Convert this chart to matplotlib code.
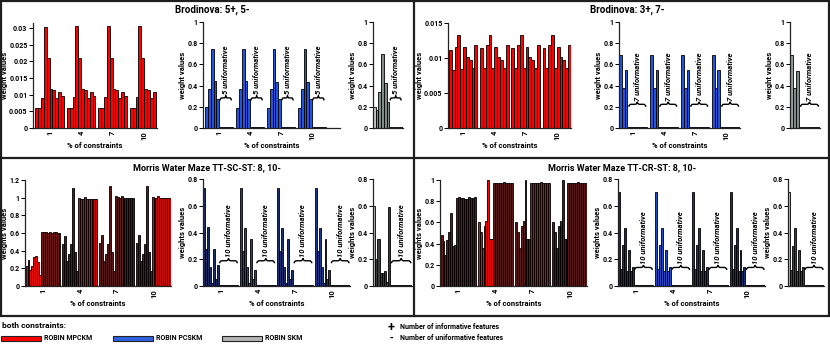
"""
Feature-weight bar charts for ROBIN MPCKM / PCSKM / SKM on the
Brodinova and Morris Water Maze data sets.
"""

import matplotlib
matplotlib.use("Agg")
import matplotlib.pyplot as plt
import numpy as np
from matplotlib.colors import to_rgb
from matplotlib.lines import Line2D
from matplotlib.patches import PathPatch, Rectangle
from matplotlib.path import Path

# ─── Data ─────────────────────────────────────────────────────────────────────
PCT_LABELS = ["1", "4", "7", "10"]

# Brodinova: 5+, 5-
BROD55_MPCKM = [
    [0.006, 0.006, 0.009, 0.0302, 0.0209, 0.0117, 0.0114, 0.009, 0.0107, 0.0097],
    [0.006, 0.006, 0.0092, 0.0306, 0.021, 0.0117, 0.0114, 0.009, 0.0107, 0.0097],
    [0.006, 0.006, 0.0092, 0.0306, 0.021, 0.0117, 0.0114, 0.009, 0.0107, 0.0097],
    [0.006, 0.006, 0.0092, 0.0306, 0.021, 0.0117, 0.0114, 0.009, 0.0107, 0.0097],
]
BROD55_PCSKM = [
    [0.2, 0.37, 0.75, 0.44, 0.27, 0.005, 0.005, 0.005, 0.005, 0.005],
    [0.19, 0.37, 0.75, 0.44, 0.27, 0.005, 0.005, 0.005, 0.005, 0.005],
    [0.19, 0.37, 0.75, 0.43, 0.27, 0.005, 0.005, 0.005, 0.005, 0.005],
    [0.19, 0.37, 0.75, 0.43, 0.27, 0.005, 0.005, 0.005, 0.005, 0.005],
]
BROD55_SKM = [0.2, 0.17, 0.34, 0.70, 0.42, 0.25, 0.005, 0.005, 0.005, 0.005, 0.005]

# Brodinova: 3+, 7-
BROD37_MPCKM = [
    [0.0112, 0.0083, 0.0116, 0.0133, 0.0084, 0.0115, 0.0101, 0.0097, 0.0085, 0.0118],
    [0.0114, 0.0085, 0.0119, 0.0133, 0.0085, 0.0115, 0.0101, 0.0097, 0.0085, 0.0118],
    [0.0114, 0.0085, 0.0119, 0.0133, 0.0085, 0.0115, 0.0101, 0.0097, 0.0085, 0.0118],
    [0.0114, 0.0085, 0.0119, 0.0133, 0.0085, 0.0115, 0.0101, 0.0097, 0.0085, 0.0118],
]
BROD37_PCSKM = [
    [0.69, 0.38, 0.55, 0.005, 0.005, 0.005, 0.005, 0.005, 0.005, 0.005],
    [0.69, 0.38, 0.55, 0.005, 0.005, 0.005, 0.005, 0.005, 0.005, 0.005],
    [0.69, 0.38, 0.55, 0.005, 0.005, 0.005, 0.005, 0.005, 0.005, 0.005],
    [0.69, 0.38, 0.55, 0.005, 0.005, 0.005, 0.005, 0.005, 0.005, 0.005],
]
BROD37_SKM = [0.69, 0.38, 0.54, 0.005, 0.005, 0.005, 0.005, 0.005, 0.005, 0.005]

# Morris Water Maze TT-SC-ST: 8, 10-
MWM_SC_MPCKM = [
    [0.23, 0.29, 0.18, 0.23, 0.33, 0.34, 0.27, 0.13,
     0.61, 0.61, 0.61, 0.605, 0.61, 0.605, 0.61, 0.61, 0.60, 0.60],
    [0.48, 0.57, 0.28, 0.36, 0.47, 1.11, 0.38, 0.17,
     1.0, 0.99, 0.99, 1.01, 0.99, 0.99, 0.98, 0.98, 0.98, 0.98],
    [0.49, 0.58, 0.28, 0.36, 0.48, 1.13, 0.38, 0.17,
     1.02, 1.01, 1.0, 1.02, 1.0, 1.0, 1.0, 1.0, 1.0, 1.0],
    [0.49, 0.58, 0.28, 0.36, 0.48, 1.13, 0.38, 0.17,
     1.01, 1.0, 1.0, 1.02, 1.0, 1.0, 1.0, 1.0, 1.0, 1.0],
]
MWM_SC_PCSKM = [
    [0.73, 0.28, 0.44, 0.14, 0.02, 0.28, 0.05, 0.16,
     0.004, 0.004, 0.004, 0.004, 0.004, 0.004, 0.004, 0.004, 0.004, 0.004],
    [0.73, 0.26, 0.43, 0.14, 0.02, 0.35, 0.05, 0.12,
     0.004, 0.004, 0.004, 0.004, 0.004, 0.004, 0.004, 0.004, 0.004, 0.004],
    [0.73, 0.26, 0.43, 0.14, 0.02, 0.35, 0.05, 0.12,
     0.004, 0.004, 0.004, 0.004, 0.004, 0.004, 0.004, 0.004, 0.004, 0.004],
    [0.73, 0.26, 0.43, 0.14, 0.02, 0.35, 0.05, 0.12,
     0.004, 0.004, 0.004, 0.004, 0.004, 0.004, 0.004, 0.004, 0.004, 0.004],
]
MWM_SC_SKM = [0.6, 0.2, 0.35, 0.1, 0.1, 0.11, 0.03, 0.59,
              0.004, 0.004, 0.004, 0.004, 0.004, 0.004, 0.004, 0.004, 0.004, 0.004]

# Morris Water Maze TT-CR-ST: 8, 10-
MWM_CR_MPCKM = [
    [0.48, 0.42, 0.29, 0.43, 0.51, 0.69, 0.38, 0.39,
     0.83, 0.84, 0.83, 0.83, 0.82, 0.82, 0.84, 0.83, 0.83, 0.84],
    [0.6, 0.51, 0.36, 0.57, 0.61, 1.0, 0.44, 0.44,
     0.97, 0.97, 0.97, 0.97, 0.97, 0.98, 0.97, 0.97, 0.97, 0.97],
    [0.6, 0.51, 0.36, 0.57, 0.61, 1.0, 0.44, 0.44,
     0.97, 0.97, 0.97, 0.97, 0.97, 0.98, 0.97, 0.97, 0.97, 0.97],
    [0.6, 0.51, 0.36, 0.57, 0.61, 1.0, 0.44, 0.44,
     0.97, 0.97, 0.97, 0.97, 0.97, 0.98, 0.97, 0.97, 0.97, 0.97],
]
MWM_CR_PCSKM = [
    [0.7, 0.13, 0.31, 0.43, 0.11, 0.27, 0.11, 0.14,
     0.004, 0.004, 0.004, 0.004, 0.004, 0.004, 0.004, 0.004, 0.004, 0.004],
    [0.7, 0.13, 0.31, 0.43, 0.11, 0.27, 0.11, 0.14,
     0.004, 0.004, 0.004, 0.004, 0.004, 0.004, 0.004, 0.004, 0.004, 0.004],
    [0.7, 0.13, 0.31, 0.43, 0.11, 0.27, 0.11, 0.14,
     0.004, 0.004, 0.004, 0.004, 0.004, 0.004, 0.004, 0.004, 0.004, 0.004],
    [0.7, 0.13, 0.31, 0.43, 0.11, 0.27, 0.11, 0.14,
     0.004, 0.004, 0.004, 0.004, 0.004, 0.004, 0.004, 0.004, 0.004, 0.004],
]
MWM_CR_SKM = [0.7, 0.12, 0.3, 0.43, 0.11, 0.27, 0.11, 0.14,
              0.004, 0.004, 0.004, 0.004, 0.004, 0.004, 0.004, 0.004, 0.004, 0.004]

# ─── Style ────────────────────────────────────────────────────────────────────
W, H = 830, 347
RED = ("#5a1818", "#ff0000")       # (dark, bright)
BLUE = ("#1b2558", "#2254dc")
GRAY_L = ("#7f8c8a", "#c4c4c4")
GRAY_D = ("#383c3b", "#b8b8b8")
FRAME = "#1e1e1e"
EDGE_LW = 0.6

plt.rcParams["font.family"] = ["Roboto", "DejaVu Sans"]
plt.rcParams["font.weight"] = "bold"
plt.rcParams["axes.labelweight"] = "bold"


def mix(pair, s):
    d, b = np.array(to_rgb(pair[0])), np.array(to_rgb(pair[1]))
    return tuple(d + (b - d) * s)


def px_axes(fig, left, top, right, bottom):
    return fig.add_axes([left / W, 1 - bottom / H, (right - left) / W, (bottom - top) / H])


def group_colors(n_inf, n, pair, shades):
    # shades: one (informative, uninformative) brightness per group
    return [[mix(pair, s_inf if i < n_inf else s_un) for i in range(n)]
            for s_inf, s_un in shades]


def draw_groups(ax, groups, colors, gap=1):
    n = len(groups[0])
    centers = []
    for g, (vals, cols) in enumerate(zip(groups, colors)):
        x = g * (n + gap) + np.arange(n)
        ax.bar(x, vals, width=1.0, align="edge", color=cols,
               edgecolor="black", linewidth=EDGE_LW)
        centers.append(x[0] + n / 2)
    return centers


def draw_single(ax, vals, cols):
    ax.bar(np.arange(len(vals)), vals, width=1.0, align="edge",
           color=cols, edgecolor="black", linewidth=EDGE_LW)
    ax.set_xlim(0, len(vals))


def add_brace(ax, x0, x1, y0, h):
    xm = (x0 + x1) / 2
    s = (x1 - x0) * 0.14
    yc = y0 + h / 2
    verts = [(x0, y0), (x0, yc), (x0 + s, yc),
             (xm - s, yc),
             (xm, yc), (xm, y0 + h),
             (xm, yc), (xm + s, yc),
             (x1 - s, yc),
             (x1, yc), (x1, y0)]
    codes = [Path.MOVETO, Path.CURVE3, Path.CURVE3, Path.LINETO,
             Path.CURVE3, Path.CURVE3, Path.CURVE3, Path.CURVE3,
             Path.LINETO, Path.CURVE3, Path.CURVE3]
    ax.add_patch(PathPatch(Path(verts, codes), fill=False, lw=1.0,
                           edgecolor="black", clip_on=False))


def style_axes(ax, ymax, yticks, ylabel, centers=None, xlabel=None):
    ax.set_ylim(0, ymax)
    ax.set_yticks(yticks)
    ax.set_yticklabels(["%g" % t for t in yticks])
    for s in ("top", "right"):
        ax.spines[s].set_visible(False)
    for s in ("left", "bottom"):
        ax.spines[s].set_linewidth(0.9)
        ax.spines[s].set_color("#222222")
    ax.tick_params(axis="y", length=3, width=0.7, pad=1, labelsize=5)
    if centers is not None:
        ax.set_xticks(centers)
        ax.set_xticklabels(PCT_LABELS, rotation=90)
        ax.tick_params(axis="x", length=0, pad=2, labelsize=5.5)
    else:
        ax.set_xticks([])
    ax.set_ylabel(ylabel, fontsize=5.5, labelpad=1)
    if xlabel:
        ax.set_xlabel(xlabel, fontsize=5.5, labelpad=2)
    ax.set_facecolor("none")


def label_uninf(ax, x0, x1, y0, text, ymax, ax_h_px):
    h = 5 * ymax / ax_h_px
    add_brace(ax, x0, x1, y0, h)
    ax.text((x0 + x1) / 2, y0 + h * 1.25, text, rotation=90, ha="center",
            va="bottom", fontsize=5.5, fontstyle="italic", fontweight="bold")


fig = plt.figure(figsize=(W / 100, H / 100), dpi=100)

# ─── Brodinova 5+, 5- ─────────────────────────────────────────────────────────
ax = px_axes(fig, 33, 23, 157, 128)
c = draw_groups(ax, BROD55_MPCKM, group_colors(10, 10, RED, [(1, 1)] * 4))
ax.set_xlim(-0.8, 42.5)
style_axes(ax, 0.0315, [0, 0.005, 0.01, 0.015, 0.02, 0.025, 0.03],
           "weight values", c, "% of constraints")

ax = px_axes(fig, 203, 22, 340, 128)
c = draw_groups(ax, BROD55_PCSKM, group_colors(5, 10, BLUE, [(1, 1)] * 4))
ax.set_xlim(-0.8, 48)
style_axes(ax, 1, [0, 0.2, 0.4, 0.6, 0.8, 1], "weight values", c, "% of constraints")
for g in range(4):
    label_uninf(ax, g * 11 + 5.3, g * 11 + 9.3, 0.26, "5 uniformative", 1, 106)

ax = px_axes(fig, 373, 22, 403, 128)
draw_single(ax, BROD55_SKM, [mix(GRAY_L, 1 if i == 0 else 0) for i in range(len(BROD55_SKM))])
style_axes(ax, 1, [0, 0.2, 0.4, 0.6, 0.8, 1], "weight values")
label_uninf(ax, 6.3, 10.3, 0.26, "5 uniformative", 1, 106)

# ─── Brodinova 3+, 7- ─────────────────────────────────────────────────────────
ax = px_axes(fig, 448, 23, 571, 128)
c = draw_groups(ax, BROD37_MPCKM, group_colors(10, 10, RED, [(1, 1)] * 4))
ax.set_xlim(-0.3, 43)
style_axes(ax, 0.015, [0, 0.005, 0.01, 0.015], "weight values", c, "% of constraints")

ax = px_axes(fig, 619, 22, 740, 128)
c = draw_groups(ax, BROD37_PCSKM, group_colors(3, 10, BLUE, [(1, 1)] * 4))
ax.set_xlim(0, 43)
style_axes(ax, 1, [0, 0.2, 0.4, 0.6, 0.8, 1], "weight values", c, "% of constraints")
for g in range(4):
    label_uninf(ax, g * 11 + 3.5, g * 11 + 9.5, 0.2, "7 uniformative", 1, 106)

ax = px_axes(fig, 790, 22, 820, 128)
draw_single(ax, BROD37_SKM, [mix(GRAY_L, 0.35 if i == 0 else 0) for i in range(len(BROD37_SKM))])
style_axes(ax, 1, [0, 0.2, 0.4, 0.6, 0.8, 1], "weight values")
label_uninf(ax, 3.5, 9.5, 0.2, "7 uniformative", 1, 106)

# ─── Morris Water Maze TT-SC-ST ───────────────────────────────────────────────
ax = px_axes(fig, 25, 180, 171, 286)
c = draw_groups(ax, MWM_SC_MPCKM,
                group_colors(8, 18, RED, [(1, 0.15), (0, 0.75), (0, 0), (0, 0.75)]))
ax.set_xlim(-0.3, 75)
style_axes(ax, 1.2, [0, 0.2, 0.4, 0.6, 0.8, 1, 1.2], "weights values", c,
           "% of constraints")

ax = px_axes(fig, 203, 179, 350, 286)
c = draw_groups(ax, MWM_SC_PCSKM,
                group_colors(8, 18, BLUE, [(0.1, 0), (0.6, 0), (0.2, 0), (0.35, 0)]))
ax.set_xlim(0, 75)
style_axes(ax, 0.8, [0, 0.2, 0.4, 0.6, 0.8], "weights values", c, "% of constraints")
for g in range(4):
    label_uninf(ax, g * 19 + 8.5, g * 19 + 17.5, 0.17, "10 uniformative", 0.8, 107)

ax = px_axes(fig, 373, 179, 412, 286)
draw_single(ax, MWM_SC_SKM, [mix(GRAY_D, 1 if i == 0 else 0) for i in range(len(MWM_SC_SKM))])
style_axes(ax, 0.8, [0, 0.2, 0.4, 0.6, 0.8], "weights values")
label_uninf(ax, 8.5, 17.5, 0.17, "10 uniformative", 0.8, 107)

# ─── Morris Water Maze TT-CR-ST ───────────────────────────────────────────────
ax = px_axes(fig, 440, 180, 587, 286)
c = draw_groups(ax, MWM_CR_MPCKM,
                group_colors(8, 18, RED, [(0.1, 0.1), (1, 0), (0, 0.7), (0, 0)]))
ax.set_xlim(-0.3, 75)
style_axes(ax, 1.0, [0, 0.2, 0.4, 0.6, 0.8, 1], "weights values", c,
           "% of constraints")

ax = px_axes(fig, 618, 179, 765, 286)
c = draw_groups(ax, MWM_CR_PCSKM,
                group_colors(8, 18, BLUE, [(0.15, 0), (0.8, 0), (0.3, 0), (0.2, 0)]))
ax.set_xlim(0, 75)
style_axes(ax, 0.8, [0, 0.2, 0.4, 0.6, 0.8], "weights values", c, "% of constraints")
for g in range(4):
    label_uninf(ax, g * 19 + 8.5, g * 19 + 17.5, 0.12, "10 uniformative", 0.8, 107)

ax = px_axes(fig, 788, 179, 824, 286)
draw_single(ax, MWM_CR_SKM, [mix(GRAY_D, 1 if i == 0 else 0.05) for i in range(len(MWM_CR_SKM))])
style_axes(ax, 0.8, [0, 0.2, 0.4, 0.6, 0.8], "weights values")
label_uninf(ax, 8.5, 17.5, 0.12, "10 uniformative", 0.8, 107)

# ─── Titles and frame ─────────────────────────────────────────────────────────
for x, y, t, fs in [(212, 10, "Brodinova: 5+, 5-", 7), (627, 10, "Brodinova: 3+, 7-", 7),
                    (207, 168, "Morris Water Maze TT-SC-ST: 8, 10-", 6.5),
                    (622, 168, "Morris Water Maze TT-CR-ST: 8, 10-", 6.5)]:
    fig.text(x / W, 1 - y / H, t, ha="center", va="center", fontsize=fs)

fig.add_artist(Rectangle((1 / W, 1 - 316 / H), 828 / W, 315 / H, fill=False,
                         lw=1.6, edgecolor=FRAME, transform=fig.transFigure))
fig.add_artist(Line2D([414 / W, 414 / W], [1 - 316 / H, 1], lw=1.6, color=FRAME,
                      transform=fig.transFigure))
fig.add_artist(Line2D([0, 1], [1 - 158 / H, 1 - 158 / H], lw=1.6, color=FRAME,
                      transform=fig.transFigure))

# ─── Legend ───────────────────────────────────────────────────────────────────
fig.text(2 / W, 1 - 326 / H, "both constraints:", va="center", fontsize=6)
for x0, col, name in [(1, "#ff0000", "ROBIN MPCKM"), (113, "#2f62e0", "ROBIN PCSKM"),
                      (222, "#b4b4b4", "ROBIN SKM")]:
    fig.add_artist(Rectangle((x0 / W, 1 - 341 / H), 40 / W, 5 / H, facecolor=col,
                             edgecolor="#222222", lw=0.8, transform=fig.transFigure))
    fig.text((x0 + 43) / W, 1 - 338 / H, name, va="center", fontsize=5)

fig.text(391 / W, 1 - 327 / H, "+", ha="center", va="center", fontsize=9)
fig.text(400 / W, 1 - 327 / H, "Number of informative features", va="center", fontsize=5)
fig.text(391 / W, 1 - 338 / H, "-", ha="center", va="center", fontsize=7)
fig.text(400 / W, 1 - 338 / H, "Number of uniformative features", va="center", fontsize=5)

fig.savefig("out.png", dpi=100)
plt.close(fig)
